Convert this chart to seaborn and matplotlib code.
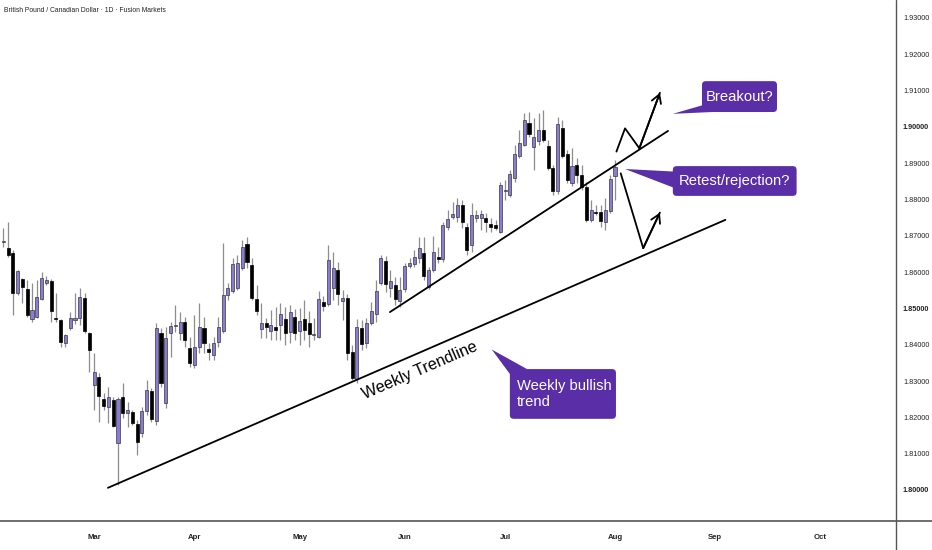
import numpy as np
import pandas as pd
import matplotlib
matplotlib.use("Agg")
import matplotlib.pyplot as plt
import matplotlib.transforms as mtransforms
import seaborn as sns
from matplotlib.patches import FancyBboxPatch, Polygon
from matplotlib.lines import Line2D

sns.set_style("white")
plt.rcParams['font.family'] = ['Liberation Sans', 'DejaVu Sans']

# ---- data ----
start_date = "2025-02-04"
end_of_axis = "2025-10-31"

opens = [1.8683, 1.8666, 1.8653, 1.8543, 1.8581, 1.8554, 1.8471, 1.8476, 1.8526, 1.8570,
         1.8576, 1.8471, 1.8468, 1.8405, 1.8446, 1.8468, 1.8474, 1.8529, 1.8432, 1.8289,
         1.8311, 1.8251, 1.8229, 1.8248, 1.8129, 1.8256, 1.8212, 1.8215, 1.8182, 1.8157,
         1.8218, 1.8273, 1.8190, 1.8432, 1.8240, 1.8432, 1.8452, 1.8432, 1.8463, 1.8391,
         1.8344, 1.8394, 1.8446, 1.8388, 1.8372, 1.8408, 1.8438, 1.8537, 1.8548, 1.8556,
         1.8611, 1.8677, 1.8620, 1.8526, 1.8443, 1.8460, 1.8438, 1.8449, 1.8454, 1.8471,
         1.8435, 1.8476, 1.8438, 1.8471, 1.8460, 1.8427, 1.8421, 1.8518, 1.8512, 1.8556,
         1.8606, 1.8521, 1.8529, 1.8380, 1.8306, 1.8446, 1.8405, 1.8460, 1.8485, 1.8570,
         1.8631, 1.8556, 1.8565, 1.8521, 1.8554, 1.8617, 1.8622, 1.8639, 1.8653, 1.8559,
         1.8606, 1.8642, 1.8636, 1.8724, 1.8752, 1.8752, 1.8785, 1.8724, 1.8675, 1.8749,
         1.8749, 1.8749, 1.8733, 1.8730, 1.8711, 1.8823, 1.8812, 1.8859, 1.8920, 1.8950,
         1.9011, 1.8945, 1.8961, 1.8991, 1.8947, 1.8887, 1.8823, 1.8997, 1.8925, 1.8845,
         1.8895, 1.8868, 1.8834, 1.8744, 1.8766, 1.8766, 1.8738, 1.8768, 1.8865]
highs = [1.8722, 1.8738, 1.8661, 1.8606, 1.8584, 1.8578, 1.8570, 1.8578, 1.8600, 1.8589,
         1.8581, 1.8543, 1.8471, 1.8430, 1.8490, 1.8543, 1.8556, 1.8543, 1.8435, 1.8377,
         1.8322, 1.8267, 1.8284, 1.8256, 1.8256, 1.8295, 1.8242, 1.8220, 1.8193, 1.8229,
         1.8303, 1.8281, 1.8460, 1.8446, 1.8449, 1.8463, 1.8509, 1.8490, 1.8476, 1.8421,
         1.8482, 1.8515, 1.8476, 1.8405, 1.8421, 1.8476, 1.8680, 1.8570, 1.8639, 1.8647,
         1.8689, 1.8697, 1.8639, 1.8565, 1.8515, 1.8474, 1.8496, 1.8504, 1.8515, 1.8504,
         1.8509, 1.8498, 1.8501, 1.8523, 1.8493, 1.8474, 1.8548, 1.8534, 1.8675, 1.8655,
         1.8628, 1.8551, 1.8540, 1.8399, 1.8471, 1.8468, 1.8474, 1.8518, 1.8578, 1.8647,
         1.8644, 1.8606, 1.8587, 1.8587, 1.8625, 1.8639, 1.8661, 1.8697, 1.8697, 1.8614,
         1.8700, 1.8669, 1.8738, 1.8771, 1.8793, 1.8804, 1.8799, 1.8735, 1.8790, 1.8771,
         1.8771, 1.8763, 1.8749, 1.8744, 1.8848, 1.8854, 1.8881, 1.8950, 1.8991, 1.9038,
         1.9041, 1.9024, 1.9038, 1.9047, 1.8964, 1.8895, 1.9027, 1.9019, 1.8936, 1.8942,
         1.8914, 1.8895, 1.8848, 1.8799, 1.8785, 1.8785, 1.8804, 1.8867, 1.8909]
lows = [1.8669, 1.8642, 1.8482, 1.8537, 1.8515, 1.8476, 1.8463, 1.8474, 1.8523, 1.8565,
        1.8463, 1.8463, 1.8394, 1.8394, 1.8441, 1.8457, 1.8454, 1.8432, 1.8325, 1.8220,
        1.8187, 1.8220, 1.8185, 1.8174, 1.8014, 1.8198, 1.8174, 1.8179, 1.8096, 1.8146,
        1.8207, 1.8187, 1.8179, 1.8284, 1.8226, 1.8366, 1.8435, 1.8413, 1.8394, 1.8339,
        1.8336, 1.8377, 1.8377, 1.8358, 1.8358, 1.8394, 1.8432, 1.8523, 1.8543, 1.8551,
        1.8606, 1.8611, 1.8523, 1.8482, 1.8419, 1.8419, 1.8413, 1.8413, 1.8413, 1.8399,
        1.8405, 1.8413, 1.8399, 1.8413, 1.8394, 1.8413, 1.8419, 1.8493, 1.8507, 1.8523,
        1.8509, 1.8468, 1.8358, 1.8303, 1.8295, 1.8386, 1.8391, 1.8454, 1.8463, 1.8565,
        1.8545, 1.8532, 1.8509, 1.8504, 1.8545, 1.8611, 1.8614, 1.8625, 1.8578, 1.8554,
        1.8600, 1.8625, 1.8628, 1.8716, 1.8746, 1.8738, 1.8722, 1.8647, 1.8655, 1.8738,
        1.8716, 1.8711, 1.8711, 1.8716, 1.8708, 1.8799, 1.8807, 1.8848, 1.8914, 1.8947,
        1.8972, 1.8881, 1.8950, 1.8958, 1.8881, 1.8812, 1.8815, 1.8914, 1.8845, 1.8837,
        1.8845, 1.8826, 1.8738, 1.8738, 1.8757, 1.8724, 1.8716, 1.8763, 1.8799]
closes = [1.8685, 1.8647, 1.8543, 1.8603, 1.8559, 1.8482, 1.8496, 1.8532, 1.8584, 1.8578,
          1.8493, 1.8470, 1.8408, 1.8427, 1.8474, 1.8474, 1.8532, 1.8438, 1.8386, 1.8325,
          1.8259, 1.8231, 1.8256, 1.8176, 1.8251, 1.8212, 1.8220, 1.8185, 1.8132, 1.8218,
          1.8275, 1.8196, 1.8446, 1.8295, 1.8419, 1.8452, 1.8453, 1.8463, 1.8413, 1.8350,
          1.8394, 1.8449, 1.8405, 1.8380, 1.8405, 1.8449, 1.8537, 1.8556, 1.8622, 1.8625,
          1.8669, 1.8628, 1.8529, 1.8493, 1.8460, 1.8449, 1.8454, 1.8441, 1.8485, 1.8432,
          1.8490, 1.8432, 1.8465, 1.8441, 1.8430, 1.8430, 1.8526, 1.8507, 1.8633, 1.8611,
          1.8540, 1.8529, 1.8377, 1.8308, 1.8449, 1.8402, 1.8460, 1.8493, 1.8548, 1.8639,
          1.8567, 1.8576, 1.8526, 1.8551, 1.8617, 1.8625, 1.8642, 1.8666, 1.8589, 1.8606,
          1.8655, 1.8636, 1.8730, 1.8746, 1.8760, 1.8785, 1.8738, 1.8661, 1.8757, 1.8757,
          1.8760, 1.8738, 1.8724, 1.8722, 1.8840, 1.8826, 1.8870, 1.8925, 1.8956, 1.9019,
          1.8980, 1.8972, 1.8991, 1.8964, 1.8887, 1.8823, 1.9008, 1.8920, 1.8854, 1.8892,
          1.8868, 1.8834, 1.8744, 1.8771, 1.8763, 1.8741, 1.8771, 1.8856, 1.8890]

price_ticks = [1.80, 1.81, 1.82, 1.83, 1.84, 1.85, 1.86, 1.87, 1.88, 1.89, 1.90, 1.91, 1.92, 1.93]
bold_ticks = [1.80, 1.85, 1.90]
month_labels = ["Mar", "Apr", "May", "Jun", "Jul", "Aug", "Sep", "Oct"]
title = "British Pound / Canadian Dollar · 1D · Fusion Markets"

# drawings (bar index, price)
weekly_line_x = [21.9, 151.1]
weekly_line_y = [1.8006, 1.8744]
channel_line_x = [80.9, 139.1]
channel_line_y = [1.8490, 1.8989]
breakout_x = [128.3, 130.1, 133.1, 137.4]
breakout_y = [1.8932, 1.8996, 1.8941, 1.9094]
retest_x = [129.2, 133.9, 137.4]
retest_y = [1.8872, 1.8666, 1.8764]

callout_texts = ["Breakout?", "Retest/rejection?", "Weekly bullish\ntrend"]
callout_boxes = [(146.2, 161.9, 1.9041, 1.9126),
                 (140.1, 166.0, 1.8810, 1.8892),
                 (106.0, 128.2, 1.8196, 1.8333)]
callout_tails = [[(140.1, 1.9036), (146.4, 1.9060), (148.3, 1.9041)],
                 [(130.1, 1.8884), (140.4, 1.8877), (140.4, 1.8832)],
                 [(102.2, 1.8387), (106.2, 1.8316), (109.6, 1.8333)]]
trend_label = "Weekly Trendline"
trend_label_pos = (87.2, 1.8330)

# ---- frame ----
W, H = 932, 550
fig = plt.figure(figsize=(W / 100, H / 100), dpi=100)
ax = fig.add_axes([0, 29 / H, 896 / W, 521 / H])
ax.set_facecolor("white")
for s in ax.spines.values():
    s.set_visible(False)

df = pd.DataFrame({"open": opens, "high": highs, "low": lows, "close": closes})
df["date"] = pd.bdate_range(start_date, periods=len(df))
df["x"] = np.arange(len(df))
up = df["close"] >= df["open"]
body_low = df[["open", "close"]].min(axis=1)
body_h = (df["close"] - df["open"]).abs().clip(lower=0.00028)

# wicks and bodies
ax.vlines(df["x"], df["low"], df["high"], color="#8d8d8d", lw=0.9, zorder=1)
ax.bar(df["x"][up], body_h[up], bottom=body_low[up], width=0.64,
       color="#8a7bd6", edgecolor="#3a3a3a", linewidth=0.5, zorder=2)
ax.bar(df["x"][~up], body_h[~up], bottom=body_low[~up], width=0.64,
       color="black", edgecolor="black", linewidth=0.5, zorder=2)

# trendlines and projected paths
for xs, ys in [(weekly_line_x, weekly_line_y), (channel_line_x, channel_line_y),
               (breakout_x, breakout_y), (retest_x, retest_y)]:
    sns.lineplot(x=xs, y=ys, ax=ax, color="black", lw=1.3, sort=False,
                 estimator=None, zorder=4)
for xs, ys in [(breakout_x, breakout_y), (retest_x, retest_y)]:
    ax.annotate("", xy=(xs[-1], ys[-1]), xytext=(xs[-2], ys[-2]),
                arrowprops=dict(arrowstyle="->,head_length=0.6,head_width=0.35",
                                color="black", lw=1.3, shrinkA=0, shrinkB=0),
                zorder=4)

ax.text(trend_label_pos[0], trend_label_pos[1], trend_label, fontsize=11.6,
        rotation=23.4, rotation_mode="anchor", ha="center", va="center",
        color="black", zorder=4)

# callouts
box_color = "#5a2ea6"
aspect = 4.78 / 3631
for txt, (x0, x1, y0, y1), tail in zip(callout_texts, callout_boxes, callout_tails):
    ax.add_patch(FancyBboxPatch((x0, y0), x1 - x0, y1 - y0,
                                boxstyle="round,pad=0,rounding_size=0.8",
                                mutation_aspect=aspect, fc=box_color, ec="none", zorder=5))
    ax.add_patch(Polygon(tail, closed=True, fc=box_color, ec="none", zorder=5))
    if "\n" in txt:
        ax.text(x0 + 1.4, (y0 + y1) / 2, txt, fontsize=10.6, color="white",
                ha="left", va="center", linespacing=1.1, zorder=6)
    else:
        ax.text((x0 + x1) / 2, (y0 + y1) / 2, txt, fontsize=10.6, color="white",
                ha="center", va="center", zorder=6)

# axes scales
ax.set_xlim(-0.69, 186.8)
ax.set_ylim(1.79146, 1.93495)

axis_dates = pd.bdate_range(start_date, end_of_axis)
first_of_month = pd.Series(np.arange(len(axis_dates)), index=axis_dates)
first_of_month = first_of_month.groupby(axis_dates.to_period("M")).first()
month_pos = first_of_month.values[1:1 + len(month_labels)]
ax.set_xticks(month_pos)
ax.set_xticklabels(month_labels, fontsize=5.6, fontweight="bold", color="#222222")
for lab in ax.get_xticklabels():
    lab.set_transform(lab.get_transform() +
                      mtransforms.ScaledTranslation(4 / 100, 0, fig.dpi_scale_trans))

ax.yaxis.tick_right()
ax.set_yticks(price_ticks)
ax.set_yticklabels([f"{p:.5f}" for p in price_ticks], fontsize=5.2, color="#222222")
for lab, p in zip(ax.get_yticklabels(), price_ticks):
    if any(abs(p - b) < 1e-9 for b in bold_ticks):
        lab.set_fontweight("bold")
ax.tick_params(axis="both", length=0)
ax.tick_params(axis="x", pad=9.5)
ax.tick_params(axis="y", pad=5)
ax.grid(False)

# price scale / time scale borders
fig.add_artist(Line2D([0, 1], [29 / H, 29 / H], color="#555555", lw=1.2,
                      transform=fig.transFigure))
fig.add_artist(Line2D([896 / W, 896 / W], [0, 1], color="#555555", lw=1.0,
                      transform=fig.transFigure))

fig.text(4 / W, 1 - 10 / H, title, fontsize=4.9, color="#222222", ha="left", va="center")

fig.savefig("out.png", dpi=100, facecolor="white")
